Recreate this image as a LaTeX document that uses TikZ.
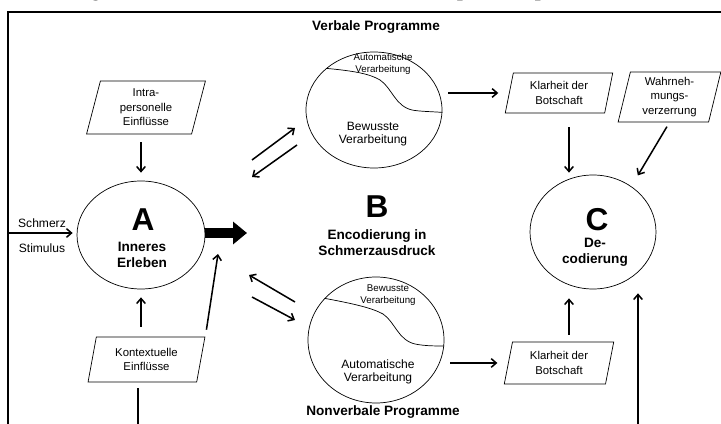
\documentclass[tikz,border=0pt]{standalone}
\usepackage{fontspec}
\setmainfont{Liberation Sans}
\usepackage{tikz}
\usetikzlibrary{arrows.meta,positioning,shapes.geometric,calc}
\tikzset{
  procnode/.style={draw, ellipse, line width=0.6pt, inner sep=0pt},
  inflnode/.style={draw, line width=0.6pt, trapezium, trapezium left angle=78, trapezium right angle=102,
                   trapezium stretches=true, align=center, inner sep=1pt,
                   font=\fontsize{9.7}{12.3}\selectfont},
  txt/.style={align=center, inner sep=0pt, font=\fontsize{10.3}{11.2}\selectfont},
  smalltxt/.style={align=center, inner sep=0pt, font=\fontsize{8.3}{10.2}\selectfont},
  boldtxt/.style={align=center, inner sep=0pt, font=\fontsize{11.6}{13.7}\selectfont\bfseries},
  bigletter/.style={inner sep=0pt, font=\fontsize{27}{27}\selectfont\bfseries},
  arr/.style={-{Straight Barb[length=1.5mm,width=2.6mm]}, line width=1.3pt},
  fatarr/.style={-{Triangle[length=4.2mm,width=6.6mm]}, line width=3mm},
  plainline/.style={line width=1.3pt},
  outerframe/.style={line width=1.8pt}
}
\begin{document}
\begin{tikzpicture}[x=0.3mm, y=-0.3mm]
\useasboundingbox (0,0) rectangle (721,424);
\draw[outerframe] (8,12) rectangle (760,470);
\node[anchor=base west, inner sep=0pt, font=\fontsize{17.6}{20}\selectfont\bfseries] (title) at (0,-3)
  {Abbildung 2 Kommunikationsmodell Schmerz [27: 335]};

% A
\node[procnode, minimum width=38.4mm, minimum height=32.4mm] (A) at (141,235) {};
\node[bigletter] (Aletter) at (143,220) {A};
\node[boldtxt] (Atext) at (142,255) {Inneres\\Erleben};
\node[inflnode, minimum width=35.7mm, minimum height=15.9mm] (intra) at (146,107.5) {Intra-\\personelle\\Einflüsse};
\node[inflnode, minimum width=35.1mm, minimum height=13.5mm] (kontext) at (146.5,359.5) {Kontextuelle\\Einflüsse};
\node[txt] (schmerz) at (42,223) {Schmerz};
\node[txt] (stimulus) at (42,248) {Stimulus};

% B
\node[boldtxt] (verbal) at (376,27) {Verbale Programme};
\node[boldtxt] (nonverbal) at (383,412) {Nonverbale Programme};
\node[procnode, minimum width=40.8mm, minimum height=34.8mm] (Bv) at (374,110) {};
\node[procnode, minimum width=40.8mm, minimum height=37.8mm] (Bn) at (376,340) {};
\node[smalltxt] (Bv-auto) at (383,64) {Automatische\\Verarbeitung};
\node[txt] (Bv-bew) at (373,134.5) {Bewusste\\Verarbeitung};
\node[smalltxt] (Bn-bew) at (388,295.5) {Bewusste\\Verarbeitung};
\node[txt] (Bn-auto) at (378,371.5) {Automatische\\Verarbeitung};
\node[bigletter] (Bletter) at (377,207) {B};
\node[boldtxt] (Btext) at (377,243) {Encodierung in\\Schmerzausdruck};

% C
\node[procnode, minimum width=37.8mm, minimum height=34.2mm] (C) at (593,232) {};
\node[bigletter] (Cletter) at (597,220) {C};
\node[boldtxt] (Ctext) at (595,252.5) {De-\\codierung};
\node[inflnode, minimum width=32.4mm, minimum height=12mm] (klar1) at (559,93) {Klarheit der\\Botschaft};
\node[inflnode, minimum width=30.9mm, minimum height=15mm] (wahr) at (669.5,97) {Wahrneh-\\mungs-\\verzerrung};
\node[inflnode, minimum width=33mm, minimum height=12.6mm] (klar2) at (559,363) {Klarheit der\\Botschaft};

\draw[line width=0.6pt] (Bv.139) .. controls (355,71) and (370,74) .. (380,80)
  .. controls (392,88) and (395,106) .. (412,110) .. controls (420,111.5) and (430,111.5) .. (Bv.-2);
\draw[line width=0.6pt] (Bn.141) .. controls (355,304) and (372,308) .. (383,314)
  .. controls (395,322) and (398,340) .. (415,344) .. controls (425,346) and (435,346) .. (Bn.-5);

\coordinate (stim) at (9,233);
\coordinate (enc) at (247,233);
\coordinate (kup) at (218,254);
\coordinate (va) at (252,160); \coordinate (vb) at (295,128);
\coordinate (vc) at (297,145); \coordinate (vd) at (252,177);
\coordinate (na) at (295,302); \coordinate (nb) at (249,275);
\coordinate (nc) at (252,297); \coordinate (nd) at (295,320);
\coordinate (k1) at ($(klar1.south)+(10,0)$);
\coordinate (k2) at ($(klar2.north)+(10,0)$);
\coordinate (loopL) at (138,440);
\coordinate (loopR) at (638,440);

\draw[arr, shorten >=1.2mm] (stim) -- (stim -| A.west);
\draw[fatarr] (A.east |- enc) -- (enc);
\draw[arr, shorten <=2.4mm, shorten >=2.4mm] (intra.south -| A.north) -- (A.north);
\draw[arr, shorten <=3mm, shorten >=2.4mm] (kontext.north -| A.south) -- (A.south);
\draw[arr, shorten <=2.1mm] (kontext.top right corner) -- (kup);
\draw[plainline, shorten <=1.8mm] (kontext.south -| loopL) -- (loopL);
\draw[arr] (va) -- (vb);
\draw[arr] (vc) -- (vd);
\draw[arr] (na) -- (nb);
\draw[arr] (nc) -- (nd);
\draw[arr, shorten <=1.8mm, shorten >=3.2mm] (klar1.west -| Bv.east) -- (klar1.west);
\draw[arr, shorten <=1.8mm, shorten >=3.2mm] (klar2.west -| Bn.east) -- (klar2.west);
\draw[arr, shorten <=4.2mm, shorten >=0.6mm] (k1) -- (k1 |- C.north);
\draw[arr, shorten <=2.1mm, shorten >=2.7mm] (k2) -- (k2 |- C.south);
\draw[arr, shorten <=1.5mm, shorten >=3.8mm] (wahr.south) -- (C.50);
\draw[arr, shorten >=1.2mm] (loopR) -- (loopR |- C.south);
\end{tikzpicture}
\end{document}
